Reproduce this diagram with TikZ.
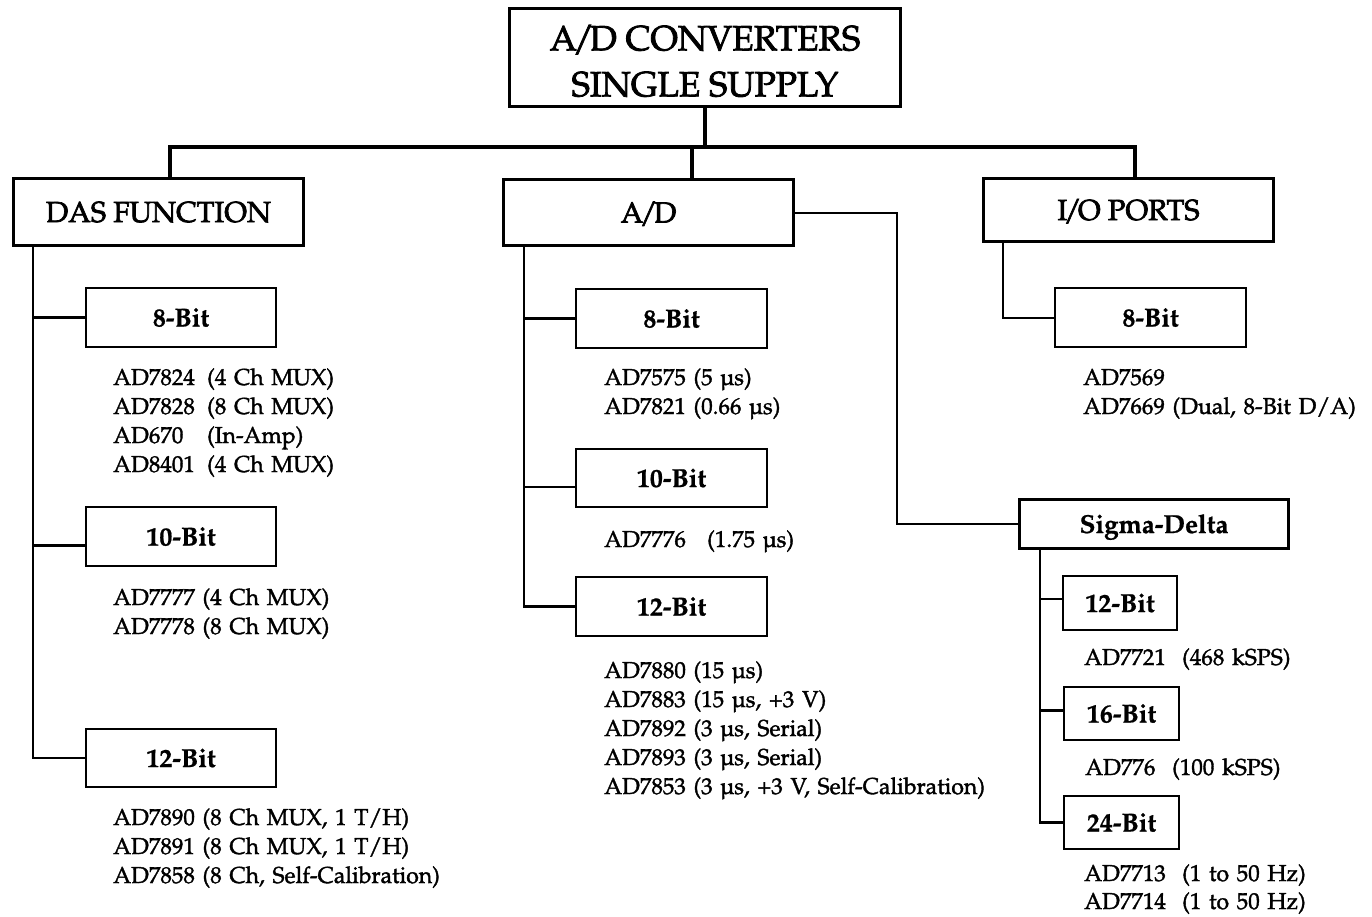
\documentclass[tikz,border=0pt]{standalone}
\usepackage[T1]{fontenc}
\usepackage{mathpazo}
\newcommand\MyTitleFont{\fontsize{35}{46}\selectfont}
\newcommand\MyHeadFont{\fontsize{29}{34}\selectfont}
\newcommand\MySubFont{\fontsize{26}{30}\selectfont\bfseries}
\newcommand\MyItemFont{\fontsize{23}{29}\selectfont}
\newcommand\Heavy[2]{\special{pdf:literal direct 2 Tr #1 w}#2\special{pdf:literal direct 0 Tr}}
\newcommand\TightSlash{\kern-0.12em/\kern-0.12em}
\begin{document}
\begin{tikzpicture}[x=1pt,y=-1pt,
  mainbox/.style={draw, line width=3.5pt, inner sep=0pt, font=\MyHeadFont, text height=20pt, text depth=0pt},
  sdbox/.style={draw, line width=3pt, inner sep=0pt, font=\MySubFont, text height=18pt, text depth=0pt},
  subbox/.style={draw, line width=2pt, inner sep=0pt, font=\MySubFont, text height=18pt, text depth=0pt},
  items/.style={anchor=base west, inner sep=0pt, font=\MyItemFont, text width=480pt, align=left},
  thickl/.style={line width=3.5pt},
  thinl/.style={line width=2.2pt},
]
\fill[white] (0,0) rectangle (1372,916);
\useasboundingbox (0,0) rectangle (1372,916);

% title
\node[draw, line width=3.5pt, minimum width=391pt, minimum height=98pt, inner sep=0pt] (title) at (705,57.5) {};
\node[font=\MyTitleFont, align=center, inner sep=0pt] (titletxt) at (705,61) {\Heavy{0.8}{A\TightSlash D CONVERTERS}\\\Heavy{0.8}{SINGLE SUPPLY}};

% main boxes
\node[mainbox, minimum width=290pt, minimum height=67pt] (das) at (158.5,212) {\Heavy{0.7}{DAS FUNCTION}};
\node[mainbox, minimum width=290pt, minimum height=66pt] (ad) at (648.5,212.5) {\Heavy{0.7}{A\TightSlash D}};
\node[mainbox, minimum width=290pt, minimum height=63pt] (io) at (1128.5,210) {\Heavy{0.7}{I\TightSlash O PORTS}};

% bus
\coordinate (bL) at (170,147);
\coordinate (bA) at (692,147);
\coordinate (bR) at (1135,147);
\draw[thickl] (title.south) -- (title.south |- bL);
\draw[thickl, line cap=rect] (bL) -- (bR);
\draw[thickl] (bL) -- (bL |- das.north);
\draw[thickl] (bA) -- (bA |- ad.north);
\draw[thickl] (bR) -- (bR |- io.north);

% DAS column
\node[subbox, minimum width=190pt, minimum height=59pt] (d8) at (181,317.5) {\Heavy{0.2}{8-Bit}};
\node[subbox, minimum width=190pt, minimum height=59pt] (d10) at (181,536.5) {\Heavy{0.2}{10-Bit}};
\node[subbox, minimum width=190pt, minimum height=58pt] (d12) at (181,758) {\Heavy{0.2}{12-Bit}};
\coordinate (dv) at ([xshift=21pt]das.south west);
\coordinate (d10b) at ([yshift=-9pt]d10.west);
\draw[thinl] (dv) |- (d12.west);
\draw[thinl] (dv |- d8.west) -- (d8.west);
\draw[thinl] (dv |- d10b) -- (d10b);

\node[items] (d8i) at (113,385) {\Heavy{0.35}{\makebox[94pt][l]{AD7824}(4 Ch MUX)\\\makebox[94pt][l]{AD7828}(8 Ch MUX)\\\makebox[94pt][l]{AD670}(In-Amp)\\\makebox[94pt][l]{AD8401}(4 Ch MUX)}};
\node[items] (d10i) at (113,605) {\Heavy{0.35}{AD7777 (4 Ch MUX)\\AD7778 (8 Ch MUX)}};
\node[items] (d12i) at (113,825) {\Heavy{0.35}{AD7890 (8 Ch MUX, 1 T/H)\\AD7891 (8 Ch MUX, 1 T/H)\\AD7858 (8 Ch, Self-Calibration)}};

% A/D column
\node[subbox, minimum width=191pt, minimum height=59pt] (a8) at (671.5,318.5) {\Heavy{0.2}{8-Bit}};
\node[subbox, minimum width=191pt, minimum height=58pt] (a10) at (671.5,478) {\Heavy{0.2}{10-Bit}};
\node[subbox, minimum width=191pt, minimum height=59pt] (a12) at (671.5,606.5) {\Heavy{0.2}{12-Bit}};
\coordinate (av) at ([xshift=22pt]ad.south west);
\coordinate (a10b) at ([yshift=-9pt]a10.west);
\draw[thinl] (av) |- (a12.west);
\draw[thinl] (av |- a8.west) -- (a8.west);
\draw[thinl] (av |- a10b) -- (a10b);

\node[items] (a8i) at (604,385) {\Heavy{0.35}{AD7575 (5 \textmu s)\\AD7821 (0.66 \textmu s)}};
\node[items] (a10i) at (604,547) {\Heavy{0.35}{\makebox[103pt][l]{AD7776}(1.75 \textmu s)}};
\node[items] (a12i) at (604,678) {\Heavy{0.35}{AD7880 (15 \textmu s)\\AD7883 (15 \textmu s, +3 V)\\AD7892 (3 \textmu s, Serial)\\AD7893 (3 \textmu s, Serial)\\AD7853 (3 \textmu s, +3 V, Self-Calibration)}};

% Sigma-Delta
\node[sdbox, minimum width=269pt, minimum height=49pt] (sd) at (1154,524) {\Heavy{0.2}{Sigma-Delta}};
\draw[line width=2pt] (ad.east) -- ++(102,0) |- (sd.west);
\node[subbox, minimum width=114pt, minimum height=54pt] (s12) at (1120,603) {\Heavy{0.2}{12-Bit}};
\node[subbox, minimum width=115pt, minimum height=53pt] (s16) at (1121.5,713.5) {\Heavy{0.2}{16-Bit}};
\node[subbox, minimum width=115pt, minimum height=53pt] (s24) at (1121.5,822.5) {\Heavy{0.2}{24-Bit}};
\coordinate (sv) at ([xshift=22pt]sd.south west);
\coordinate (s12b) at ([yshift=4pt]s12.west);
\coordinate (s16b) at ([yshift=3pt]s16.west);
\draw[line width=2.5pt] (sv) |- (s24.west);
\draw[line width=2.5pt] (sv |- s12b) -- (s12b);
\draw[line width=2.5pt] (sv |- s16b) -- (s16b);

\node[items] (s12i) at (1084,665) {\Heavy{0.35}{\makebox[98pt][l]{AD7721}(468 kSPS)}};
\node[items] (s16i) at (1085,775) {\Heavy{0.35}{\makebox[87pt][l]{AD776}(100 kSPS)}};
\node[items, font=\fontsize{23}{28}\selectfont] (s24i) at (1084,881) {\Heavy{0.35}{\makebox[98pt][l]{AD7713}(1 to 50 Hz)\\\makebox[98pt][l]{AD7714}(1 to 50 Hz)}};

% I/O column
\node[subbox, minimum width=191pt, minimum height=59pt] (io8) at (1150.5,317.5) {\Heavy{0.2}{8-Bit}};
\coordinate (iov) at ([xshift=21pt]io.south west);
\draw[line width=2pt] (iov) |- (io8.west);
\node[items] (io8i) at (1083,385) {\Heavy{0.35}{AD7569\\AD7669 (Dual, 8-Bit D/A)}};
\end{tikzpicture}
\end{document}
